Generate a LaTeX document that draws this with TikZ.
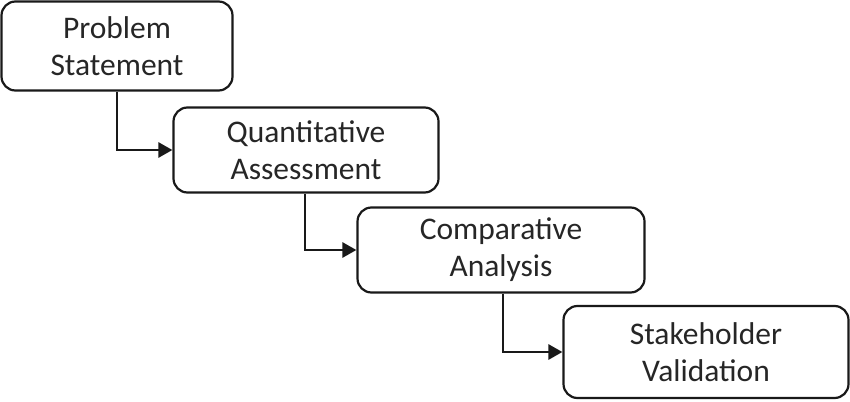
\documentclass[tikz,border=0pt]{standalone}
\usepackage{fontspec}
\setmainfont{Carlito}
\usetikzlibrary{arrows.meta}
\begin{document}
\begin{tikzpicture}[x=1pt,y=-1pt,
  stage/.style={draw=black!90, line width=2.2pt, rounded corners=14pt, align=center,
    font=\fontsize{31.5}{37}\selectfont, text=black!85, inner sep=0pt},
  link/.style={draw=black!90, line width=2.8pt, -{Triangle[length=14pt,width=15pt]}}]
\useasboundingbox (0,0) rectangle (850,401);
\node[stage, minimum width=231pt, minimum height=89pt] (ps) at (117,46) {Problem\\Statement};
\node[stage, minimum width=265pt, minimum height=85pt] (qa) at (306,150) {Quantitative\\Assessment};
\node[stage, minimum width=287pt, minimum height=85pt] (ca) at (501,250) {Comparative\\Analysis};
\node[stage, minimum width=285pt, minimum height=92pt] (sv) at (706,352) {Stakeholder\\Validation};
\draw[link] (ps.south) |- (qa.west);
\draw[link] ([xshift=-1pt]qa.south) |- (ca.west);
\draw[link] ([xshift=2pt]ca.south) |- (sv.west);
\end{tikzpicture}
\end{document}
